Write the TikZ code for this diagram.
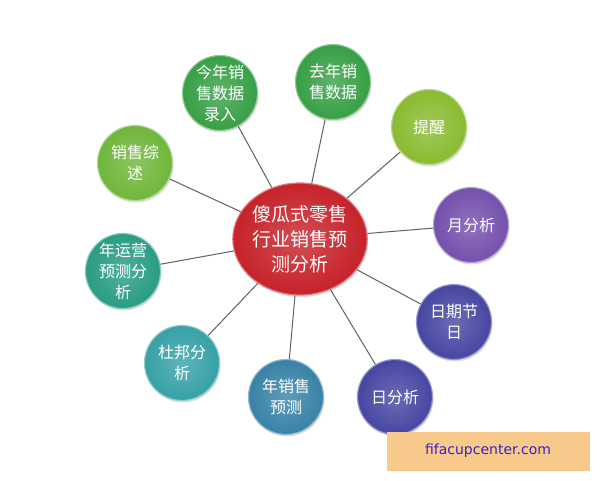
\documentclass[tikz,border=0pt]{standalone}
\usepackage{fontspec}
\newfontfamily\cjk{Noto Sans CJK SC}
\setsansfont{DejaVu Sans}
\usetikzlibrary{shapes.geometric,shadows}
\definecolor{hubred}{HTML}{C62229}
\definecolor{leafgreen}{HTML}{379F45}
\definecolor{limegreen}{HTML}{6FB63A}
\definecolor{olivegreen}{HTML}{89BB30}
\definecolor{seateal}{HTML}{289C84}
\definecolor{cyanteal}{HTML}{36A1A6}
\definecolor{steelblue}{HTML}{3882A6}
\definecolor{indigoball}{HTML}{4646A2}
\definecolor{violetball}{HTML}{7450AC}
\definecolor{markbox}{HTML}{F7CA8C}
\definecolor{marktext}{HTML}{3A20C0}
\begin{document}
\begin{tikzpicture}[x=1pt,y=-1pt,font=\cjk,
  ball/.style={circle,minimum size=75pt,inner sep=0pt,align=center,
    text=white,font=\cjk\fontsize{16}{21}\selectfont,
    draw=#1!55!white,line width=1.2pt,
    inner color=#1!80!white,outer color=#1,
    drop shadow={opacity=0.25,shadow xshift=1pt,shadow yshift=-2pt}},
  hub/.style={ellipse,minimum width=125pt,minimum height=112pt,
    inner sep=0pt,align=center,text=white,
    font=\cjk\fontsize{19}{25}\selectfont,
    draw=hubred!60!white,line width=1.2pt,
    inner color=hubred!80!white,outer color=hubred,
    drop shadow={opacity=0.25,shadow xshift=1pt,shadow yshift=-2pt}},
  link/.style={draw=gray!75!black,line width=1pt}]
  \useasboundingbox (0,0) rectangle (600,480);
  % hub and outer balls
  \node[hub] (c) at (300,239) {傻瓜式零售\\行业销售预\\测分析};
  \node[ball=leafgreen] (jn) at (220,93) {今年销\\售数据\\录入};
  \node[ball=leafgreen] (qn) at (333,82) {去年销\\售数据};
  \node[ball=olivegreen] (tx) at (429,127) {提醒};
  \node[ball=violetball] (yf) at (471,225) {月分析};
  \node[ball=indigoball] (rq) at (454,322) {日期节\\日};
  \node[ball=indigoball] (rf) at (395,397) {日分析};
  \node[ball=steelblue] (ns) at (286,397) {年销售\\预测};
  \node[ball=cyanteal] (db) at (182,363) {杜邦分\\析};
  \node[ball=seateal] (yy) at (123,271) {年运营\\预测分\\析};
  \node[ball=limegreen] (zs) at (135,163) {销售综\\述};
  % spokes
  \foreach \n in {jn,qn,tx,yf,rq,rf,ns,db,yy,zs}
    \draw[link] (c) -- (\n);
  % watermark
  \node[fill=markbox,minimum width=203pt,minimum height=39pt,
    text=marktext,font=\sffamily\fontsize{14}{18}\selectfont]
    (wm) at (488,451) {fifacupcenter.com};
\end{tikzpicture}
\end{document}
